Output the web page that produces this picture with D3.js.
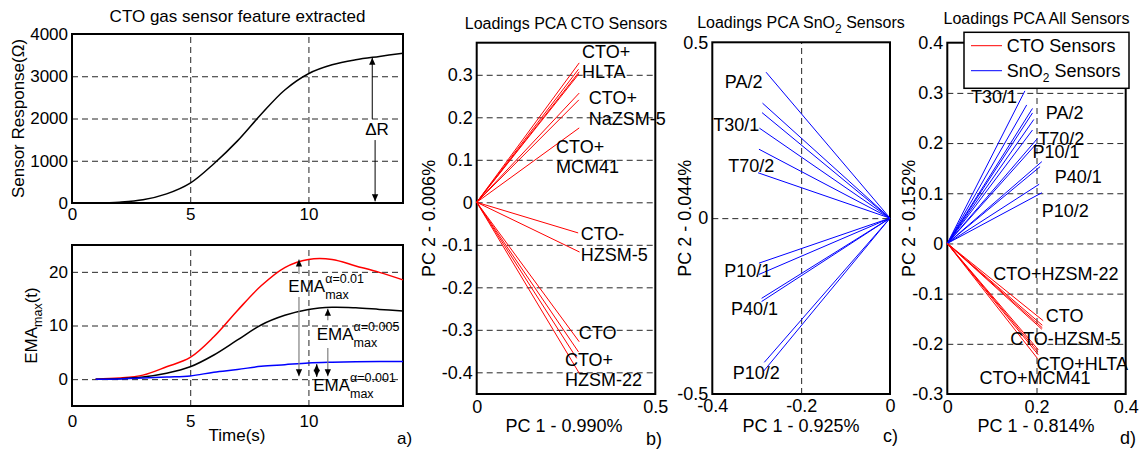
<!DOCTYPE html>
<html>
<head>
<meta charset="utf-8">
<script src="https://cdn.jsdelivr.net/npm/d3@7"></script>
<style>
  body { margin: 0; background: #fff; }
  svg { font-family: "Liberation Sans", Arial, sans-serif; }
</style>
</head>
<body>
<svg id="chart" width="1141" height="454"></svg>
<script>
// ---------- data ----------
const timeSec = [1, 2, 3, 4, 5, 6, 7, 8, 9, 10, 11, 12, 13, 14];
const sensorResponse = [0, 20, 75, 215, 470, 930, 1470, 2100, 2675, 3060, 3270, 3390, 3470, 3545];
const emaAlpha001 = [0, 0.05, 0.2, 0.4, 0.6, 1.3, 1.8, 2.4, 2.7, 3.0, 3.15, 3.25, 3.3, 3.3];
const emaAlpha005 = [0, 0.1, 0.4, 1.1, 2.3, 4.5, 7.3, 10.1, 11.9, 13.0, 13.4, 13.3, 13.0, 12.7];
const emaAlpha01 = [0, 0.2, 0.75, 2.3, 4.05, 7.9, 12.8, 17.4, 20.8, 22.3, 22.3, 21.1, 19.9, 18.5];

// loadings, CTO sensors only
const ctoPC1 = [0.287, 0.285, 0.287, 0.286, 0.287, 0.286, 0.287, 0.284, 0.288, 0.287, 0.285, 0.280, 0.287];
const ctoPC2 = [0.328, 0.313, 0.307, 0.302, 0.257, 0.241, 0.175, -0.072, -0.117, -0.328, -0.352, -0.367, -0.402];
const ctoNames = [["CTO+", "HLTA"], ["CTO+", "NaZSM-5"], ["CTO+", "MCM41"], ["CTO-", "HZSM-5"], ["CTO"], ["CTO+", "HZSM-22"]];
const ctoNameX = [0.295, 0.314, 0.222, 0.291, 0.286, 0.247];
const ctoNameY = [0.340, 0.231, 0.116, -0.089, -0.321, -0.385];

// loadings, SnO2 sensors only
const snPC1 = [-0.279, -0.287, -0.288, -0.294, -0.295, -0.297, -0.295, -0.295, -0.289, -0.289, -0.283, -0.285];
const snPC2 = [0.415, 0.327, 0.300, 0.256, 0.196, 0.129, -0.128, -0.160, -0.228, -0.237, -0.410, -0.436];
const snNames = ["PA/2", "T30/1", "T70/2", "P10/1", "P40/1", "P10/2"];
const snNameX = [-0.372, -0.398, -0.364, -0.373, -0.358, -0.354];
const snNameY = [0.369, 0.248, 0.132, -0.166, -0.275, -0.458];

// loadings, all sensors
const allSnPC1 = [0.174, 0.178, 0.191, 0.191, 0.194, 0.191, 0.202, 0.200, 0.212, 0.208, 0.206, 0.212];
const allSnPC2 = [0.304, 0.276, 0.269, 0.260, 0.247, 0.226, 0.209, 0.199, 0.163, 0.153, 0.118, 0.101];
const allCtoPC1 = [0.215, 0.213, 0.213, 0.212, 0.204, 0.203, 0.202, 0.204];
const allCtoPC2 = [-0.154, -0.163, -0.168, -0.171, -0.212, -0.216, -0.229, -0.222];
const allNames = ["T30/1", "PA/2", "T70/2", "P10/1", "P40/1", "P10/2",
                  "CTO+HZSM-22", "CTO", "CTO-HZSM-5", "CTO+HLTA", "CTO+MCM41"];
const allNameX = [0.053, 0.221, 0.204, 0.191, 0.241, 0.212, 0.103, 0.221, 0.141, 0.200, 0.072];
const allNameY = [0.279, 0.248, 0.197, 0.170, 0.121, 0.053, -0.073, -0.156, -0.202, -0.252, -0.280];

// ---------- drawing ----------
const svg = d3.select('#chart');
const FONT = '"Liberation Sans", Arial, sans-serif';
const fmt = d => String(+d.toFixed(2));

const defs = svg.append('defs');
defs.append('marker')
  .attr('id', 'head')
  .attr('viewBox', '0 0 10 10')
  .attr('refX', 10).attr('refY', 5)
  .attr('markerWidth', 8).attr('markerHeight', 7)
  .attr('markerUnits', 'userSpaceOnUse')
  .attr('orient', 'auto-start-reverse')
  .append('path')
  .attr('d', 'M0,0.5 L10,5 L0,9.5 Z')
  .attr('fill', 'black');

function makePanel(p) {
  let x = d3.scaleLinear().domain(p.xDomain).range([p.left, p.right]);
  let y = d3.scaleLinear().domain(p.yDomain).range([p.bottom, p.top]);
  let g = svg.append('g');

  // dashed grid
  let hg = g.append('g')
    .attr('transform', `translate(${p.left},0)`)
    .call(d3.axisLeft(y).tickValues(p.yGrid).tickSize(-(p.right - p.left)).tickFormat(''));
  let vg = g.append('g')
    .attr('transform', `translate(0,${p.bottom})`)
    .call(d3.axisBottom(x).tickValues(p.xGrid).tickSize(-(p.bottom - p.top)).tickFormat(''));
  [hg, vg].forEach(a => {
    a.select('.domain').remove();
    a.selectAll('line').attr('stroke', '#262626').attr('stroke-dasharray', '6,4');
  });

  // tick labels
  let ya = g.append('g')
    .attr('transform', `translate(${p.left},0)`)
    .call(d3.axisLeft(y).tickValues(p.yTicks).tickSize(0).tickPadding(4).tickFormat(fmt));
  let xa = g.append('g')
    .attr('transform', `translate(0,${p.bottom})`)
    .call(d3.axisBottom(x).tickValues(p.xTicks).tickSize(0).tickPadding(p.xPad).tickFormat(fmt));
  [ya, xa].forEach(a => {
    a.select('.domain').remove();
    a.attr('font-size', p.fs).attr('font-family', FONT);
    a.selectAll('text').attr('fill', 'black');
  });

  // box
  g.append('rect')
    .attr('x', p.left).attr('y', p.top)
    .attr('width', p.right - p.left).attr('height', p.bottom - p.top)
    .attr('fill', 'none').attr('stroke', 'black').attr('stroke-width', 2);

  return { x, y, g };
}

function loadingLines(panel, pc1, pc2, color) {
  panel.g.append('g').selectAll('line')
    .data(pc1.map((v, i) => ({ a: v, b: pc2[i] })))
    .enter().append('line')
    .attr('x1', panel.x(0)).attr('y1', panel.y(0))
    .attr('x2', d => panel.x(d.a)).attr('y2', d => panel.y(d.b))
    .attr('stroke', color).attr('stroke-width', 1);
}

function names(panel, texts, xs, ys, fs) {
  let t = panel.g.append('g').selectAll('text')
    .data(texts.map((s, i) => ({ s: [].concat(s), x: xs[i], y: ys[i] })))
    .enter().append('text')
    .attr('font-size', fs).attr('fill', 'black');
  t.selectAll('tspan').data(d => d.s.map((line, k) => ({ line, k, d })))
    .enter().append('tspan')
    .attr('x', e => panel.x(e.d.x))
    .attr('y', e => panel.y(e.d.y) + e.k * 20.5)
    .text(e => e.line);
}

function plainText(x, y, s, fs, anchor) {
  return svg.append('text')
    .attr('x', x).attr('y', y)
    .attr('font-size', fs).attr('text-anchor', anchor || 'start')
    .attr('fill', 'black').text(s);
}

// ===== panel a, top: raw sensor response =====
const aTop = makePanel({
  left: 72, right: 403, top: 34, bottom: 203,
  xDomain: [0, 14], yDomain: [0, 4000],
  xTicks: [0, 5, 10], yTicks: [0, 1000, 2000, 3000, 4000],
  xGrid: [5, 10], yGrid: [1000, 2000, 3000],
  xPad: 5, fs: 17
});
const respLine = d3.line().x(d => aTop.x(d.t)).y(d => aTop.y(d.v)).curve(d3.curveCatmullRom);
aTop.g.append('path')
  .datum(timeSec.map((t, i) => ({ t, v: sensorResponse[i] })))
  .attr('d', respLine)
  .attr('fill', 'none').attr('stroke', 'black').attr('stroke-width', 1.5);

// delta R arrows
aTop.g.append('line')
  .attr('x1', aTop.x(12.7)).attr('x2', aTop.x(12.7))
  .attr('y1', aTop.y(1990)).attr('y2', aTop.y(3440))
  .attr('stroke', 'black').attr('marker-end', 'url(#head)');
aTop.g.append('line')
  .attr('x1', aTop.x(12.82)).attr('x2', aTop.x(12.82))
  .attr('y1', aTop.y(1490)).attr('y2', aTop.y(40))
  .attr('stroke', 'black').attr('marker-end', 'url(#head)');
plainText(aTop.x(12.4), aTop.y(1610), '\u0394R', 17);

plainText(237.5, 21.5, 'CTO gas sensor feature extracted', 17, 'middle');
svg.append('text')
  .attr('transform', 'translate(24,118.5) rotate(-90)')
  .attr('text-anchor', 'middle').attr('font-size', 17)
  .text('Sensor Response(\u03A9)');

// ===== panel a, bottom: EMA features =====
const aBot = makePanel({
  left: 72, right: 403, top: 245, bottom: 406,
  xDomain: [0, 14], yDomain: [-5, 25],
  xTicks: [0, 5, 10], yTicks: [0, 10, 20],
  xGrid: [5, 10], yGrid: [0, 10, 20],
  xPad: 9, fs: 17
});
const emaLine = d3.line().x(d => aBot.x(d.t)).y(d => aBot.y(d.v)).curve(d3.curveCatmullRom);
[[emaAlpha01, 'red'], [emaAlpha005, 'black'], [emaAlpha001, 'blue']].forEach(([s, c]) => {
  aBot.g.append('path')
    .datum(timeSec.map((t, i) => ({ t, v: s[i] })))
    .attr('d', emaLine)
    .attr('fill', 'none').attr('stroke', c).attr('stroke-width', 1.5);
});

// EMA max arrows (segments broken around the labels)
const arrowT = [9.6, 9.6, 10.82, 10.82, 10.35];
const arrowFrom = [19.6, 15.3, 11.0, 5.8, 1.6];
const arrowTo = [22.3, 0.55, 13.1, 0.55, 2.8];
const arrowCol = ['#808080', '#808080', '#808080', '#808080', 'black'];
aBot.g.append('g').selectAll('line')
  .data(arrowT.map((t, i) => ({ t, f: arrowFrom[i], e: arrowTo[i], c: arrowCol[i] })))
  .enter().append('line')
  .attr('x1', d => aBot.x(d.t)).attr('x2', d => aBot.x(d.t))
  .attr('y1', d => aBot.y(d.f)).attr('y2', d => aBot.y(d.e))
  .attr('stroke', d => d.c).attr('stroke-width', 1.2)
  .attr('marker-end', 'url(#head)');
aBot.g.append('line')
  .attr('x1', aBot.x(10.35)).attr('x2', aBot.x(10.35))
  .attr('y1', aBot.y(1.6)).attr('y2', aBot.y(0.45))
  .attr('stroke', 'black').attr('stroke-width', 1.2).attr('marker-end', 'url(#head)');

const emaLabT = [9.15, 10.35, 10.2];
const emaLabV = [16.2, 7.3, -2.2];
const emaAlpha = ['\u03B1=0.01', '\u03B1=0.005', '\u03B1=0.001'];
emaLabT.forEach((t, i) => {
  let x0 = aBot.x(t), y0 = aBot.y(emaLabV[i]);
  let main = plainText(x0, y0, 'EMA', 17);
  let w = main.node().getComputedTextLength();
  plainText(x0 + w, y0 + 7, 'max', 12.5);
  plainText(x0 + w, y0 - 9, emaAlpha[i], 12.5);
});

plainText(237, 441, 'Time(s)', 17, 'middle');
plainText(397, 444, 'a)', 17);
let emaY = svg.append('text')
  .attr('transform', 'translate(37,325.5) rotate(-90)')
  .attr('text-anchor', 'middle').attr('font-size', 17);
emaY.append('tspan').text('EMA');
emaY.append('tspan').attr('font-size', 12.5).attr('dy', 5).text('max');
emaY.append('tspan').attr('dy', -5).text('(t)');

// ===== panel b: CTO loadings =====
const pb = makePanel({
  left: 476.7, right: 655.3, top: 42.7, bottom: 394,
  xDomain: [0, 0.5], yDomain: [-0.451, 0.3755],
  xTicks: [0, 0.5], yTicks: [-0.4, -0.3, -0.2, -0.1, 0, 0.1, 0.2, 0.3],
  xGrid: [], yGrid: [-0.4, -0.3, -0.2, -0.1, 0, 0.1, 0.2, 0.3],
  xPad: 6, fs: 18
});
loadingLines(pb, ctoPC1, ctoPC2, 'red');
names(pb, ctoNames, ctoNameX, ctoNameY, 18);
plainText(566, 29, 'Loadings PCA CTO Sensors', 16, 'middle');
plainText(564, 432, 'PC 1 - 0.990%', 18, 'middle');
plainText(646, 445, 'b)', 18);
svg.append('text')
  .attr('transform', 'translate(435,218.4) rotate(-90)')
  .attr('text-anchor', 'middle').attr('font-size', 18)
  .text('PC 2 - 0.006%');

// ===== panel c: SnO2 loadings =====
const pc = makePanel({
  left: 712.3, right: 890, top: 42.3, bottom: 394,
  xDomain: [-0.4, 0], yDomain: [-0.5, 0.5],
  xTicks: [-0.4, -0.2, 0], yTicks: [-0.5, 0, 0.5],
  xGrid: [-0.2], yGrid: [0],
  xPad: 5, fs: 18
});
loadingLines(pc, snPC1, snPC2, 'blue');
names(pc, snNames, snNameX, snNameY, 18);
let tc = plainText(801, 27.5, 'Loadings PCA SnO', 16, 'middle');
tc.append('tspan').attr('font-size', 12).attr('dy', 5).text('2');
tc.append('tspan').attr('dy', -5).text(' Sensors');
plainText(801, 432, 'PC 1 - 0.925%', 18, 'middle');
plainText(883, 442, 'c)', 18);
svg.append('text')
  .attr('transform', 'translate(691,218.2) rotate(-90)')
  .attr('text-anchor', 'middle').attr('font-size', 18)
  .text('PC 2 - 0.044%');

// ===== panel d: all sensors =====
const pd = makePanel({
  left: 947.3, right: 1125.7, top: 42.7, bottom: 394,
  xDomain: [0, 0.4], yDomain: [-0.3, 0.4],
  xTicks: [0, 0.2, 0.4], yTicks: [-0.3, -0.2, -0.1, 0, 0.1, 0.2, 0.3, 0.4],
  xGrid: [0.2], yGrid: [-0.2, -0.1, 0, 0.1, 0.2, 0.3],
  xPad: 6, fs: 18
});
loadingLines(pd, allSnPC1, allSnPC2, 'blue');
loadingLines(pd, allCtoPC1, allCtoPC2, 'red');
names(pd, allNames, allNameX, allNameY, 18);
plainText(1036.5, 23.5, 'Loadings PCA All Sensors', 16, 'middle');
plainText(1036, 432, 'PC 1 - 0.814%', 18, 'middle');
plainText(1120, 444, 'd)', 18);
svg.append('text')
  .attr('transform', 'translate(915,218.4) rotate(-90)')
  .attr('text-anchor', 'middle').attr('font-size', 18)
  .text('PC 2 - 0.152%');

// legend
const legendNames = ['CTO Sensors', 'SnO'];
const legendColors = ['red', 'blue'];
let leg = svg.append('g');
leg.append('rect')
  .attr('x', 964).attr('y', 32.3).attr('width', 165).attr('height', 56)
  .attr('fill', 'white').attr('stroke', 'black').attr('stroke-width', 1.5);
leg.selectAll('line').data(legendColors).enter().append('line')
  .attr('x1', 971).attr('x2', 1002)
  .attr('y1', (d, i) => 45.7 + i * 25).attr('y2', (d, i) => 45.7 + i * 25)
  .attr('stroke', d => d);
let lt = leg.selectAll('text').data(legendNames).enter().append('text')
  .attr('x', 1006.7).attr('y', (d, i) => 51.7 + i * 25)
  .attr('font-size', 18).text(d => d);
lt.filter((d, i) => i == 1).each(function () {
  d3.select(this).append('tspan').attr('font-size', 12).attr('dy', 5).text('2');
  d3.select(this).append('tspan').attr('dy', -5).text(' Sensors');
});
</script>
</body>
</html>
